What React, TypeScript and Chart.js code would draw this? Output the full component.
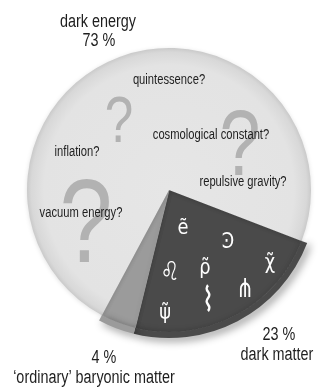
import React, { useEffect, useRef } from 'react';
import { Chart, registerables } from 'chart.js';

Chart.register(...registerables);

// ---- data ----
const components = ['dark matter', '‘ordinary’ baryonic matter', 'dark energy'];
const shares = [23, 4, 73];
const pctLabels = ['23 %', '4 %', '73 %'];
const sliceColors = ['#4a4a4a', '#9b9b9b', '#e3e3e3'];
const darkEnergyCandidates = ['quintessence?', 'cosmological constant?', 'inflation?', 'repulsive gravity?', 'vacuum energy?'];
const darkMatterCandidates = ['ẽ', 'Ͽ', '♌\uFE0E', 'ρ̃', 'χ̃', '⋔', 'ψ̃', '⌇'];

// ---- layout (offsets from pie centre, px) ----
const nameOffsets = [[108, 165], [-75, 188], [-71, -168]];
const pctOffsets = [[110, 145], [-65, 168], [-70, -149]];
const candidateOffsets = [[0, -110], [42, -55], [-92, -38], [74, -8], [-88, 23]];
const questionMarks = [
  { dx: -50, dy: -48, size: 64 },
  { dx: 71, dy: -15, size: 92 },
  { dx: -83, dy: 72, size: 119 },
];
const symbolOffsets = [[14, 38], [59, 52], [1, 83], [36, 78], [101, 73], [76, 100], [-4, 123], [39, 112]];
const symbolSizes = [22, 22, 26, 22, 22, 26, 22, 34];

const FONT = '"Liberation Sans", Arimo, Arial, sans-serif';
const SYMBOL_FONT = '"DejaVu Sans Condensed", "DejaVu Sans", sans-serif';
const NARROW = 0.8;

function narrowText(ctx: CanvasRenderingContext2D, t: string, x: number, y: number, sx = NARROW) {
  ctx.save();
  ctx.translate(x, y);
  ctx.scale(sx, 1);
  ctx.fillText(t, 0, 0);
  ctx.restore();
}

const shadowPlugin = {
  id: 'sliceShadow',
  beforeDatasetDraw(chart: any, args: any) {
    const ctx = chart.ctx;
    ctx.save();
    if (args.index === 0) {
      ctx.shadowColor = 'rgba(0,0,0,0.45)';
      ctx.shadowBlur = 8;
      ctx.shadowOffsetX = 3;
      ctx.shadowOffsetY = 3;
    } else {
      ctx.shadowColor = 'rgba(0,0,0,0.12)';
      ctx.shadowBlur = 4;
      ctx.shadowOffsetX = 0;
      ctx.shadowOffsetY = 1;
    }
  },
  afterDatasetDraw(chart: any) {
    chart.ctx.restore();
  },
};

const textPlugin = {
  id: 'pieTexts',
  afterDatasetsDraw(chart: any) {
    const ctx = chart.ctx;
    const arc = chart.getDatasetMeta(1).data[0];
    if (!arc) return;
    const cx = arc.x;
    const cy = arc.y;
    ctx.save();
    ctx.textAlign = 'center';

    // question marks
    ctx.fillStyle = '#b2b2b2';
    ctx.textBaseline = 'alphabetic';
    questionMarks.forEach((q) => {
      ctx.font = `${q.size}px ${FONT}`;
      narrowText(ctx, '?', cx + q.dx, cy + q.dy);
    });

    ctx.textBaseline = 'middle';
    ctx.fillStyle = '#1e1e1e';
    ctx.font = `14px ${FONT}`;
    darkEnergyCandidates.forEach((t, i) => {
      narrowText(ctx, t, cx + candidateOffsets[i][0], cy + candidateOffsets[i][1]);
    });

    ctx.font = `18px ${FONT}`;
    components.forEach((t, i) => {
      narrowText(ctx, t, cx + nameOffsets[i][0], cy + nameOffsets[i][1]);
      narrowText(ctx, pctLabels[i], cx + pctOffsets[i][0], cy + pctOffsets[i][1]);
    });

    ctx.fillStyle = '#ffffff';
    darkMatterCandidates.forEach((t, i) => {
      ctx.font = `${symbolSizes[i]}px ${SYMBOL_FONT}`;
      narrowText(ctx, t, cx + symbolOffsets[i][0], cy + symbolOffsets[i][1], 0.9);
    });
    ctx.restore();
  },
};

export default function App() {
  const canvasRef = useRef<HTMLCanvasElement | null>(null);

  useEffect(() => {
    document.body.style.margin = '0';
    const canvas = canvasRef.current;
    if (!canvas) return;

    const lightFill = (c: any) => {
      const chart = c.chart;
      const ca = chart.chartArea;
      if (!ca) return sliceColors[2];
      const x = (ca.left + ca.right) / 2;
      const y = (ca.top + ca.bottom) / 2;
      const R = (Math.min(ca.right - ca.left, ca.bottom - ca.top) / 2) * (142 / 148);
      const g = chart.ctx.createRadialGradient(x, y, 0, x, y, R);
      g.addColorStop(0, '#e6e6e6');
      g.addColorStop(0.88, '#e3e3e3');
      g.addColorStop(0.97, '#d8d8d8');
      g.addColorStop(1, '#cacaca');
      return g;
    };

    const chart = new Chart(canvas, {
      type: 'pie',
      data: {
        labels: components,
        datasets: [
          {
            data: shares,
            backgroundColor: [sliceColors[0], sliceColors[1], 'rgba(0,0,0,0)'],
            borderWidth: 0,
            weight: 6,
          },
          {
            data: shares,
            backgroundColor: (c: any) => (c.dataIndex === 2 ? lightFill(c) : sliceColors[c.dataIndex]),
            borderColor: [sliceColors[0], sliceColors[1], 'rgba(0,0,0,0)'],
            borderWidth: [1, 1, 0],
            weight: 142,
          },
        ],
      },
      options: {
        animation: false,
        responsive: true,
        maintainAspectRatio: false,
        rotation: 111,
        layout: { padding: { left: 21, top: 42, right: 8, bottom: 49 } },
        plugins: {
          legend: { display: false },
          tooltip: { enabled: false },
        },
        events: [],
      },
      plugins: [shadowPlugin, textPlugin],
    } as any);

    return () => chart.destroy();
  }, []);

  return (
    <div style={{ width: 325, height: 387, position: 'relative' }}>
      <canvas ref={canvasRef} />
    </div>
  );
}
